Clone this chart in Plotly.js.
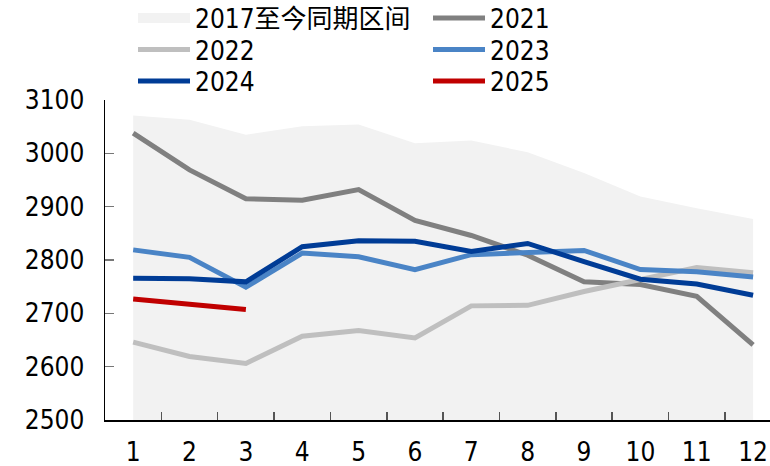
<!DOCTYPE html>
<html>
<head>
<meta charset="utf-8">
<script src="https://cdn.plot.ly/plotly-3.0.1.min.js"></script>
<style>html,body{margin:0;padding:0;background:#fff;}#chart{width:770px;height:466px;}</style>
</head>
<body>
<div id="chart"></div>
<script>
const months = [1,2,3,4,5,6,7,8,9,10,11,12];
const rangeName = "2017至今同期区间";
const rangeHigh = [3071,3063,3035,3051,3054,3019,3024,3002,2963,2919,2897,2877];
const rangeLow  = [2500,2500,2500,2500,2500,2500,2500,2500,2500,2500,2500,2500];
const y2021 = [3038,2969,2915,2912,2932,2874,2846,2809,2759,2754,2732,2641];
const y2022 = [2646,2619,2606,2657,2668,2654,2714,2715,2741,2763,2786,2776];
const y2023 = [2819,2805,2749,2813,2806,2782,2810,2814,2818,2782,2778,2768];
const y2024 = [2766,2765,2759,2825,2836,2835,2816,2831,2797,2764,2755,2734];
const y2025 = [2727,2716,2707];
const yTicks = [2500,2600,2700,2800,2900,3000,3100];
const xDividers = [1.5,2.5,3.5,4.5,5.5,6.5,7.5,8.5,9.5,10.5,11.5];

const FONT = "'DejaVu Sans Condensed', 'Liberation Sans Narrow', 'DejaVu Sans', 'Noto Sans CJK SC', sans-serif";
const W = 770, H = 466;

function lineTrace(name, y, color, legendId) {
  return {
    type: 'scatter', mode: 'lines', name: name,
    x: months.slice(0, y.length), y: y,
    line: {color: color, width: 5},
    legend: legendId, hoverinfo: 'skip'
  };
}

const traces = [
  {type:'scatter', mode:'lines', x: months, y: rangeLow, line:{width:0, color:'#f2f2f2'}, showlegend:false, hoverinfo:'skip'},
  {type:'scatter', mode:'lines', x: months, y: rangeHigh, fill:'tonexty', fillcolor:'#f2f2f2', line:{width:0, color:'#f2f2f2'}, showlegend:false, hoverinfo:'skip'},
  {type:'scatter', mode:'lines', name: rangeName, x:[null], y:[null], line:{width:16, color:'#f2f2f2'}, legend:'legend', hoverinfo:'skip'},
  lineTrace('2021', y2021, '#808080', 'legend2'),
  lineTrace('2022', y2022, '#bfbfbf', 'legend3'),
  lineTrace('2023', y2023, '#4a84c6', 'legend4'),
  lineTrace('2024', y2024, '#003c96', 'legend5'),
  lineTrace('2025', y2025, '#c00000', 'legend6'),
  {type:'scatter', mode:'lines', x:[null], y:[null], xaxis:'x2', yaxis:'y', showlegend:false, hoverinfo:'skip'}
];

function leg(px, py) {
  return {
    xref:'container', yref:'container',
    x: px / W, y: 1 - py / H, xanchor:'left', yanchor:'middle',
    bgcolor:'rgba(0,0,0,0)', borderwidth:0,
    font:{family: FONT, size: 26, color:'#000'},
    itemwidth: 52, itemsizing:'trace'
  };
}

const layout = {
  width: W, height: H,
  margin: {l:105, r:0, t:100, b:46, pad:0, autoexpand:false},
  paper_bgcolor:'#fff', plot_bgcolor:'rgba(0,0,0,0)',
  font: {family: FONT, size: 26, color:'#000'},
  showlegend: true,
  xaxis: {
    range:[0.5, 12.3], tickmode:'array', tickvals: months, ticktext: months.map(String),
    ticks:'', showgrid:false, zeroline:false, automargin:false,
    showline:true, linecolor:'#000', linewidth:1.5, layer:'above traces',
    tickfont:{family: FONT, size: 26, color:'#000'},
    ticklabelstandoff: 8
  },
  xaxis2: {
    overlaying:'x', anchor:'y', side:'bottom', automargin:false, layer:'above traces',
    range:[0.5, 12.3], tickmode:'array', tickvals: xDividers, ticktext: xDividers.map(()=>''),
    ticks:'inside', ticklen:8, tickwidth:1.5, tickcolor:'#555',
    showticklabels:true, tickfont:{size:1, color:'rgba(0,0,0,0)'},
    showgrid:false, zeroline:false, showline:false
  },
  yaxis: {
    range:[2500, 3100], tickvals: yTicks, ticktext: yTicks.map(String),
    ticks:'inside', ticklen:9, tickwidth:1.5, tickcolor:'#777', layer:'above traces',
    showgrid:false, zeroline:false, automargin:false,
    showline:true, linecolor:'#000', linewidth:1.5,
    tickfont:{family: FONT, size: 26, color:'#000'},
    ticklabelstandoff: 14
  },
  legend: leg(133, 18),
  legend2: leg(428, 18),
  legend3: leg(133, 49.5),
  legend4: leg(428, 49.5),
  legend5: leg(133, 81),
  legend6: leg(428, 81)
};

Plotly.newPlot('chart', traces, layout, {displayModeBar:false, staticPlot:true});
</script>
</body>
</html>
